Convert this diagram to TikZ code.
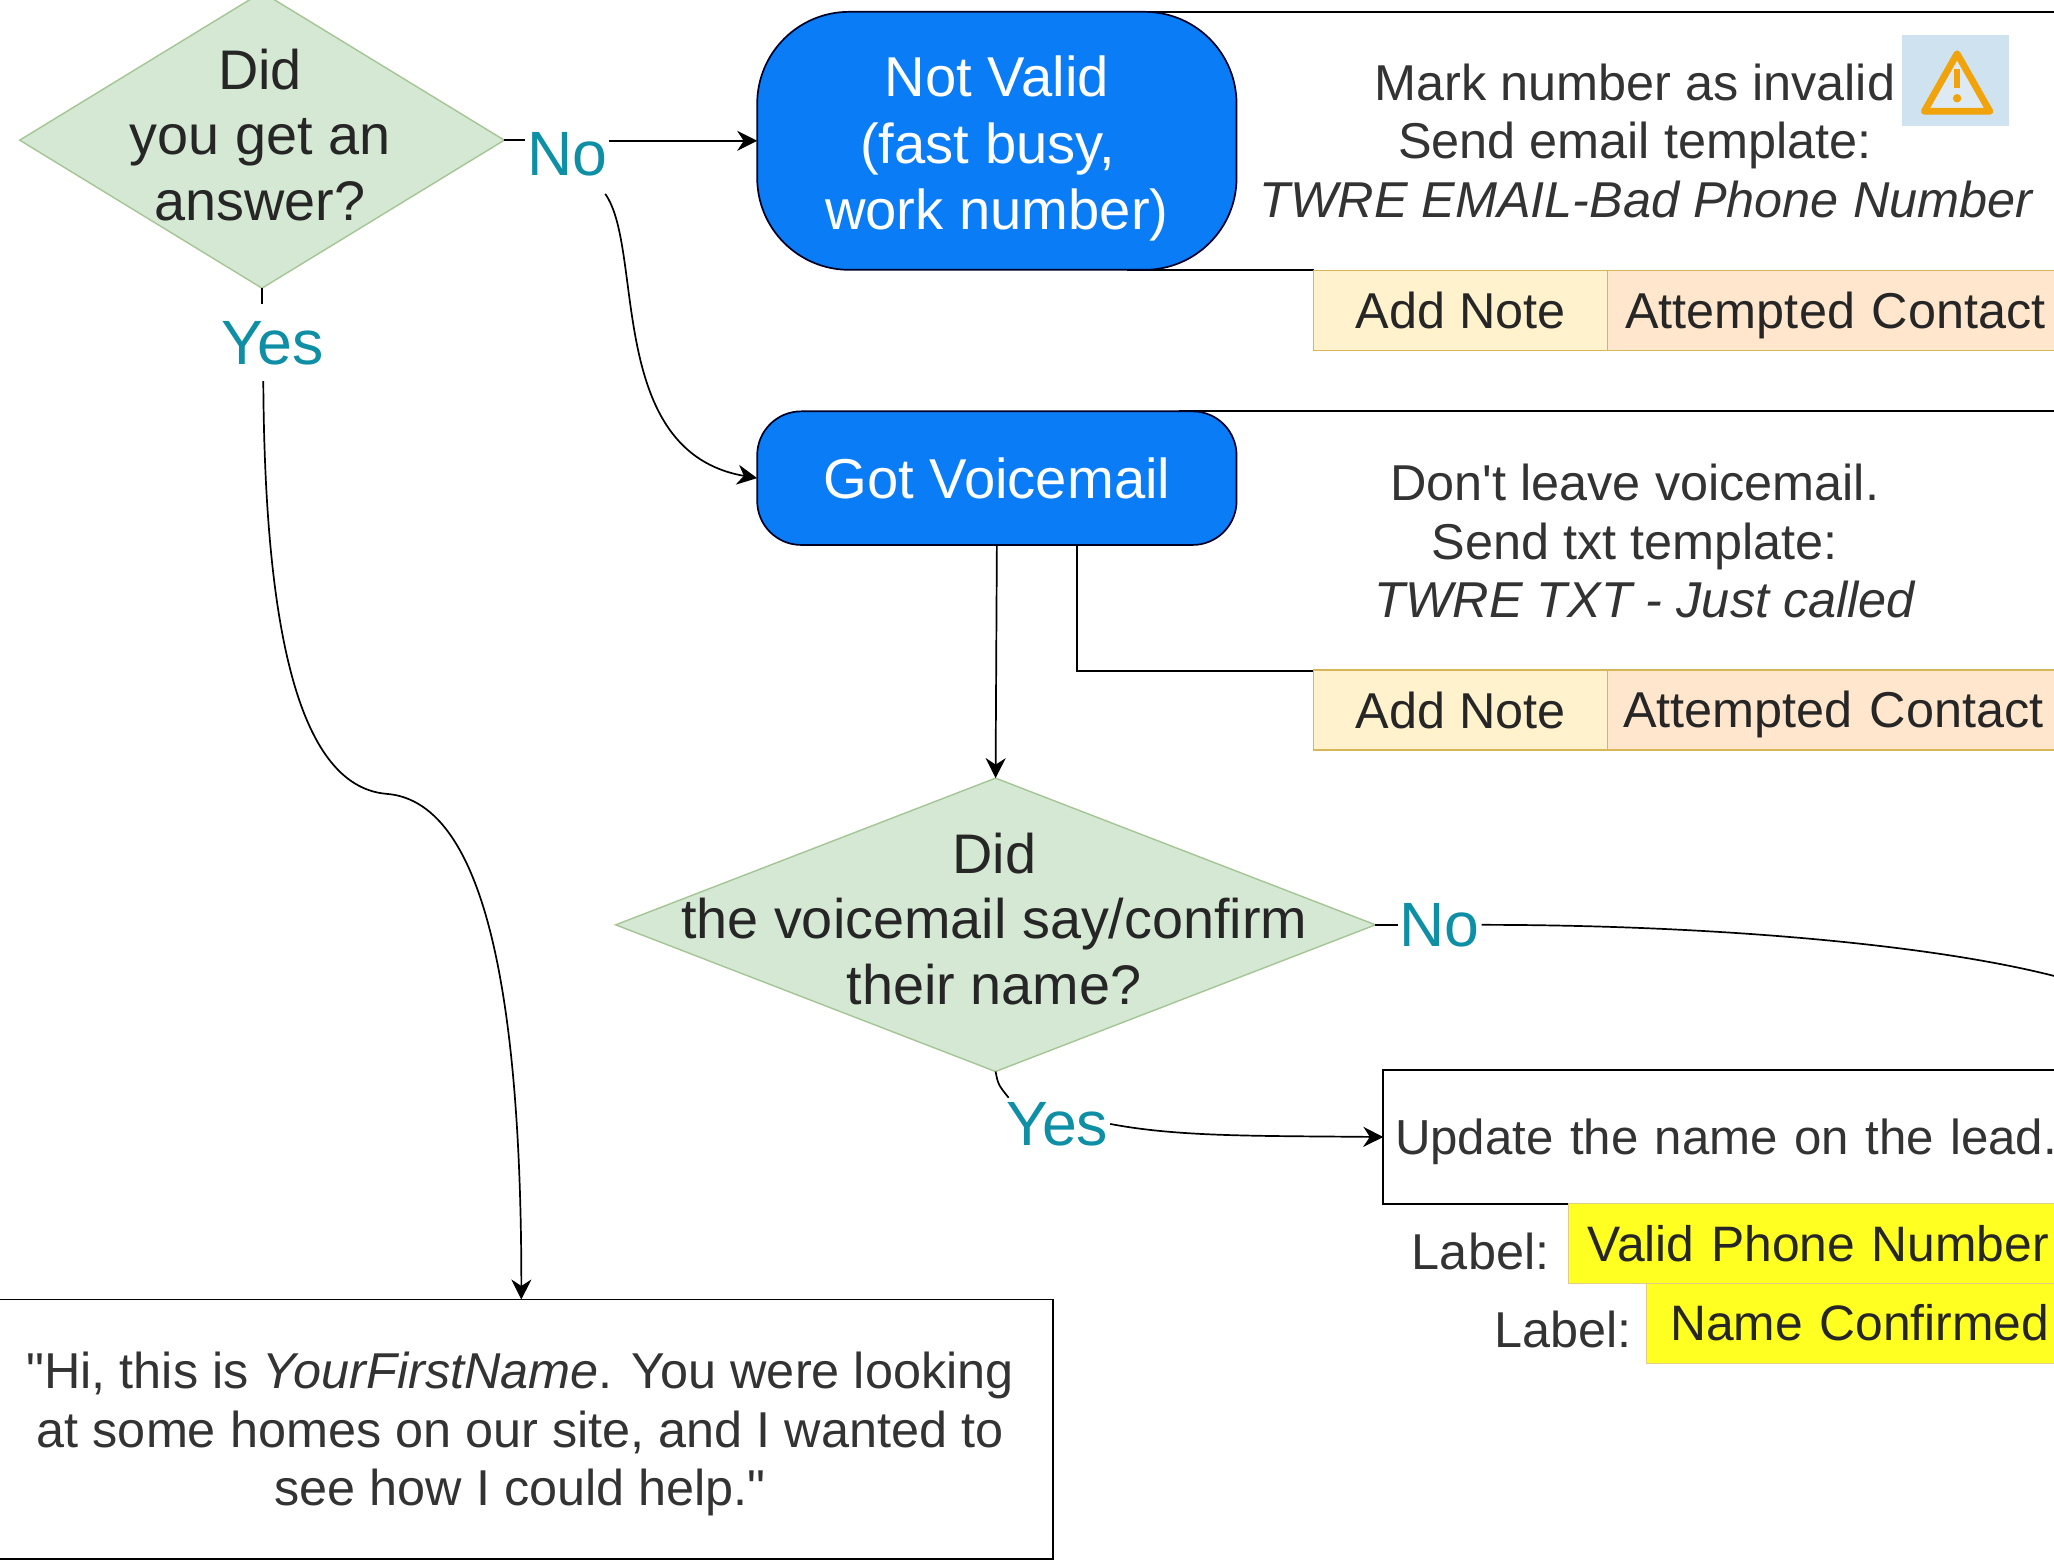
\documentclass[tikz,border=0pt]{standalone}
\usepackage{fontspec}
\setmainfont{Liberation Sans}[Ligatures=TeXOff]
\usetikzlibrary{arrows.meta,shapes.geometric}
\definecolor{dgreen}{HTML}{D5E8D4}
\definecolor{dgreenl}{HTML}{A5C595}
\definecolor{tealc}{HTML}{0E8FA5}
\definecolor{bluec}{HTML}{0A7CF5}
\definecolor{notef}{HTML}{FFF2CC}
\definecolor{contf}{HTML}{FFE6CC}
\definecolor{goldl}{HTML}{D6B656}
\definecolor{txt}{HTML}{333333}
\definecolor{yel}{HTML}{FFFF22}
\definecolor{warn}{HTML}{F0A30A}
\definecolor{warnbg}{HTML}{CFE2F0}
\tikzset{
  x=0.655pt,y=-0.655pt,
  conn/.style={draw=black,line width=0.85pt},
  arr/.style={conn,-{Stealth[length=10pt,width=10pt]}},
  decision/.style={diamond,draw=dgreenl,fill=dgreen,line width=0.7pt,inner sep=0pt,outer sep=0pt},
  decisiontext/.style={align=center,text=black!85,inner sep=0pt,font=\fontsize{27.9}{32.75}\selectfont},
  answer/.style={text=tealc,font=\fontsize{31.3}{34}\selectfont,fill=white,inner sep=1pt,outer sep=0pt},
  outcome/.style={draw=black!85!blue,fill=bluec,line width=0.85pt,text=white,align=center,inner sep=0pt,outer sep=0pt,
    font=\fontsize{28.1}{33.2}\selectfont},
  body/.style={text=txt,align=center,inner sep=0pt,font=\fontsize{25.2}{29.2}\selectfont},
  notebox/.style={draw=goldl,fill=notef,line width=0.6pt,text=black!85,inner sep=0pt,outer sep=0pt,minimum width=146.7pt,minimum height=40pt,anchor=west,font=\fontsize{25.2}{29.2}\selectfont},
  contactbox/.style={draw=goldl,fill=contf,line width=0.6pt,text=black!85,anchor=west,inner xsep=8.5pt,inner ysep=0pt,outer sep=0pt,text width=214pt,align=left,minimum height=40pt,text height=17.6pt,text depth=0pt,font=\fontsize{25.2}{29.2}\selectfont},
  tagbox/.style={draw=goldl!70,fill=yel,line width=0.5pt,text=black!85,anchor=west,inner ysep=0pt,outer sep=0pt,minimum height=40pt,align=left,text height=17.2pt,text depth=0pt,font=\fontsize{24.9}{29.2}\selectfont},
  whitebox/.style={draw=black,fill=white,line width=0.85pt,inner sep=0pt,outer sep=0pt,text=txt,font=\fontsize{25.2}{29.2}\selectfont},
}
\begin{document}
\begin{tikzpicture}
\useasboundingbox (0,0) rectangle (1568,1191);
\clip (0,0) rectangle (1568,1191);
\fill[white] (0,0) rectangle (1568,1191);

% section frames
\coordinate (frameTopA) at (860,9);
\coordinate (frameTopAe) at (1568,9);
\coordinate (frameBotA) at (860,206);
\coordinate (frameBotAe) at (1003,206);
\coordinate (frameTopB) at (900,314);
\coordinate (frameTopBe) at (1568,314);
\coordinate (frameBotB) at (822,416);
\coordinate (frameCorner) at (822,512);
\coordinate (frameBotBe) at (1003,512);
\draw[conn] (frameTopA) -- (frameTopAe);
\draw[conn] (frameBotA) -- (frameBotAe);
\draw[conn] (frameTopB) -- (frameTopBe);
\draw[conn] (frameBotB) -- (frameCorner) -- (frameBotBe);

% decisions
\node[decision,aspect=1.637,minimum width=242.3pt,minimum height=148pt] (d1) at (200,107) {};
\node[decisiontext] (d1t) at (198.5,103) {Did\\you get an\\answer?};
\node[decision,aspect=2.589,minimum width=379.9pt,minimum height=146.7pt] (d2) at (760,706) {};
\node[decisiontext] (d2t) at (759,701.5) {Did\\the voicemail say/confirm\\their name?};

% outcomes
\node[outcome,minimum width=239.7pt,minimum height=129pt,rounded corners=46pt] (nv) at (761,107.5) {\rule{0pt}{28pt}Not Valid\\(fast busy,\hspace*{9.2pt}\mbox{}\\work number)};
\node[outcome,minimum width=239.7pt,minimum height=66.8pt,rounded corners=22pt] (gv) at (761,365) {Got Voicemail};

% answer labels
\node[answer] (no1) at (433,118) {No};
\node[answer] (yes1) at (208,262) {Yes};
\node[answer] (no2) at (1099,706) {No};
\node[answer] (yes2) at (807,858) {Yes};

% text blocks
\node[body] (t1) at (1248,107.5) {Mark number as invalid\\Send email template:\\\hspace*{11.8pt}\textit{TWRE EMAIL-Bad Phone Number}};
\node[body] (t2) at (1248,413) {Don't leave voicemail.\\Send txt template:\\\hspace*{10.5pt}\textit{TWRE TXT - Just called}};

% warning icon
\node[fill=warnbg,minimum width=53.7pt,minimum height=45.2pt,inner sep=0pt] (warnbox) at (1493,61.5) {};
\draw[warn,line width=3.4pt,line join=round,fill=white,fill opacity=0.3] (1494,41) -- (1519,85) -- (1469,85) -- cycle;
\draw[warn,line width=2.8pt] (1494,53) -- (1494,67);
\fill[warn] (1494,75) circle (2.1pt);

% action boxes
\node[notebox] (n1) at (1003,237) {Add Note};
\node[contactbox,inner xsep=9pt] (c1) at (1227,237) {Attempted Contact};
\node[notebox] (n2) at (1003,542) {Add Note};
\node[contactbox,inner xsep=7.9pt] (c2) at (1227,542) {Attempted Contact};

\node[whitebox,anchor=west,minimum width=343pt,minimum height=66.8pt,text width=360pt,align=left,inner xsep=5.9pt,text height=17.4pt,text depth=0pt,font=\fontsize{24.6}{29.2}\selectfont] (upd) at (1056,868) {Update the name on the lead.};
\node[tagbox,text width=235pt,inner xsep=9.8pt] (v) at (1197,949.5) {Valid Phone Number};
\node[tagbox,text width=196pt,inner xsep=11.8pt] (nc) at (1257,1010) {Name Confirmed};
\node[body,anchor=east] (l1) at (1183,955) {Label:};
\node[body,anchor=east] (l2) at (1246,1015) {Label:};

\node[whitebox,minimum width=533.2pt,minimum height=129.7pt,align=center] (q) at (397,1091) {\rule{0pt}{23.4pt}"Hi, this is \textit{YourFirstName}. You were looking\\at some homes on our site, and I wanted to\\see how I could help."};

% connectors
\coordinate (no1out) at (462,148);
\coordinate (yes1stub) at (200,232);
\coordinate (yes1out) at (201,291);
\coordinate (qin) at (398,992);
\coordinate (no2end) at (1568,745);
\coordinate (yes2in) at (770,838);
\draw[conn] (d1.east) -- (no1.west |- d1.east);
\draw[arr] (no1.east |- nv.west) -- (nv.west);
\draw[arr] (no1out) .. controls (492,190) and (462,345) .. (gv.west);
\draw[conn] (d1.south) -- (yes1stub);
\draw[arr] (yes1out) .. controls (202,470) and (225,600) .. (295,606) .. controls (375,612) and (398,780) .. (qin);
\draw[arr] (gv.south) -- (d2.north);
\draw[conn] (d2.east) -- (no2.west);
\draw[conn] (no2.east) .. controls (1300,706) and (1470,720) .. (no2end);
\draw[conn] (d2.south) .. controls (762,828) .. (yes2in);
\draw[arr] (yes2.east) .. controls (900,868) and (960,867) .. (upd.west);
\end{tikzpicture}
\end{document}
